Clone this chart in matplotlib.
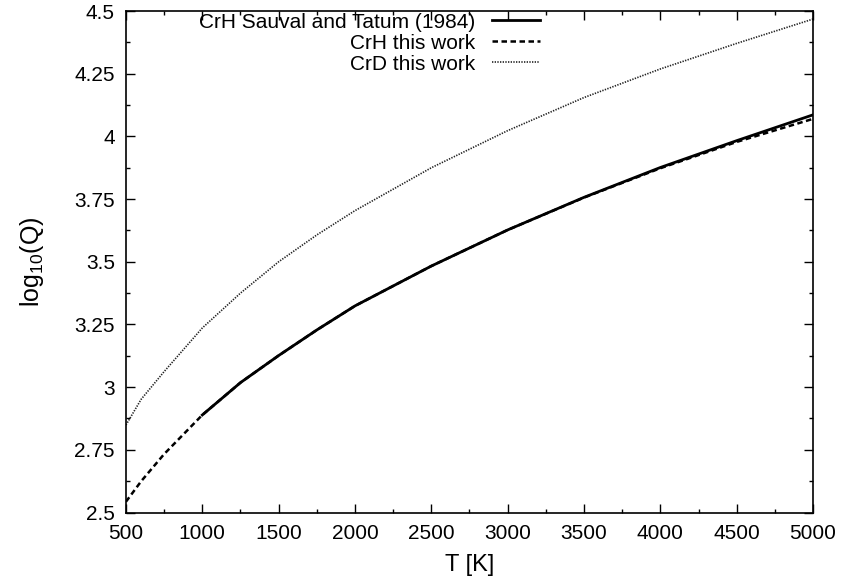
import numpy as np
import matplotlib
matplotlib.use("Agg")
import matplotlib.pyplot as plt
from matplotlib.ticker import MultipleLocator, FormatStrFormatter

plt.rcParams['font.family'] = ['Liberation Sans', 'DejaVu Sans']
plt.rcParams['mathtext.fontset'] = 'custom'
plt.rcParams['mathtext.rm'] = 'Liberation Sans'

# temperatures [K] and log10 partition functions
T_st = [1000, 1250, 1500, 1750, 2000, 2500, 3000, 3500, 4000, 4500, 5000]
q_st = [2.889, 3.018, 3.126, 3.228, 3.324, 3.483, 3.627, 3.757, 3.876, 3.983, 4.086]

T_crh = [500, 600, 750, 1000, 1250, 1500, 1750, 2000, 2500, 3000, 3500, 4000, 4500, 5000]
q_crh = [2.543, 2.625, 2.733, 2.889, 3.018, 3.126, 3.228, 3.324, 3.483, 3.627, 3.756, 3.873, 3.978, 4.070]

T_crd = [500, 600, 750, 1000, 1250, 1500, 1750, 2000, 2500, 3000, 3500, 4000, 4500, 5000]
q_crd = [2.849, 2.952, 3.062, 3.236, 3.375, 3.500, 3.607, 3.704, 3.875, 4.023, 4.155, 4.269, 4.371, 4.468]

fig = plt.figure(figsize=(8.42, 5.81), dpi=100)
ax = fig.add_axes([0.1496, 0.1179, 0.8160, 0.8631])

ax.plot(T_st, q_st, color='black', lw=2.0, label='CrH Sauval and Tatum (1984)')
ax.plot(T_crh, q_crh, color='black', lw=1.8, linestyle=(0, (2.2, 1.4)), label='CrH this work')
ax.plot(T_crd, q_crd, color='#222222', lw=1.2, linestyle=(0, (0.8, 0.8)), label='CrD this work')

ax.set_xlim(500, 5000)
ax.set_ylim(2.5, 4.5)
ax.xaxis.set_major_locator(MultipleLocator(500))
ax.xaxis.set_minor_locator(MultipleLocator(250))
ax.yaxis.set_major_locator(MultipleLocator(0.25))
ax.yaxis.set_minor_locator(MultipleLocator(0.125))
ax.yaxis.set_major_formatter(FormatStrFormatter('%g'))
ax.tick_params(which='both', direction='in', top=True, right=True, labelsize=15, width=1.0)
ax.tick_params(which='major', length=6.5, pad=8)
ax.tick_params(which='minor', length=3.2)
for s in ax.spines.values():
    s.set_linewidth(1.2)

ax.set_xlabel('T [K]', fontsize=17, labelpad=8)
ax.set_ylabel('log$_{10}$(Q)', fontsize=18, labelpad=20)

ax.legend(loc='upper right', bbox_to_anchor=(0.603, 0.997), frameon=False,
          markerfirst=False, fontsize=15, handlelength=2.3, handletextpad=0.8,
          labelspacing=0.1, borderpad=0, borderaxespad=0)

fig.savefig('out.png', dpi=100)
